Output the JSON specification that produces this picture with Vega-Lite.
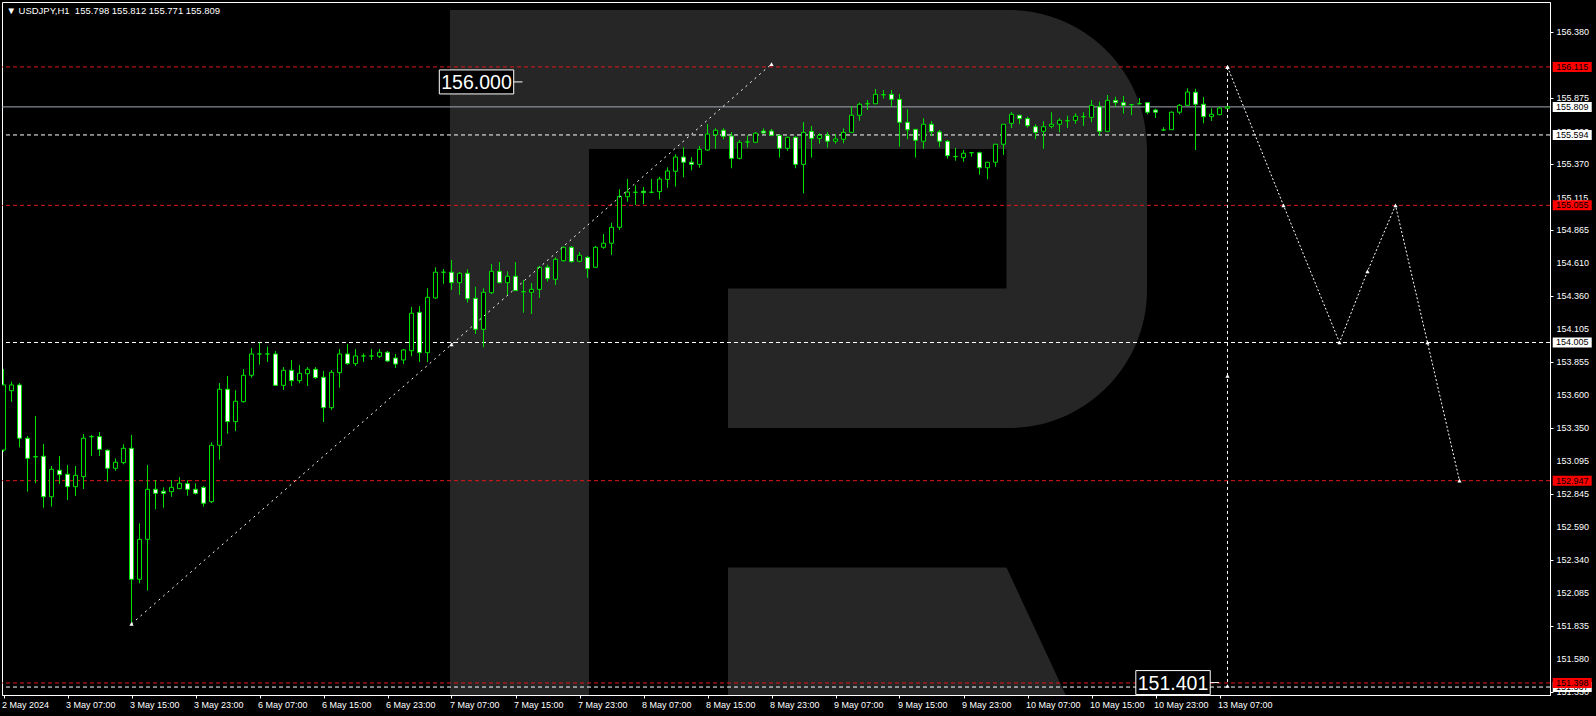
{
"$schema":"https://vega.github.io/schema/vega-lite/v6.json",
"width":1548,"height":693,
"autosize":{"type":"none"},
"padding":{"left":2,"top":2,"right":46,"bottom":21},
"background":"#000000",
"config":{"view":{"stroke":"#ffffff","strokeWidth":1},
"scale":{"continuousPadding":0},
"axis":{"grid":false,"domainColor":"#ffffff","tickColor":"#ffffff","labelColor":"#ffffff","labelFont":"Liberation Sans","labelFontSize":9,"tickSize":3,"labelOverlap":false,"labelFlush":false,"labelBound":false},
"text":{"font":"Liberation Sans"}},
"datasets":{
"candles":[
{"i":0,"o":153.182,"h":153.802,"l":153.167,"c":153.680},{"i":1,"o":153.636,"h":153.705,"l":153.552,"c":153.680},{"i":2,"o":153.680,"h":153.695,"l":153.203,"c":153.272},{"i":3,"o":153.272,"h":153.289,"l":152.863,"c":153.118},{"i":4,"o":153.131,"h":153.442,"l":152.927,"c":153.129},{"i":5,"o":153.134,"h":153.228,"l":152.740,"c":152.824},{"i":6,"o":152.824,"h":153.059,"l":152.748,"c":153.034},{"i":7,"o":153.027,"h":153.136,"l":152.922,"c":152.993},{"i":8,"o":152.996,"h":153.067,"l":152.799,"c":152.901},{"i":9,"o":152.901,"h":153.059,"l":152.830,"c":152.988},
{"i":10,"o":152.978,"h":153.304,"l":152.883,"c":153.272},{"i":11,"o":153.284,"h":153.297,"l":153.136,"c":153.284},{"i":12,"o":153.284,"h":153.320,"l":153.136,"c":153.187},{"i":13,"o":153.180,"h":153.187,"l":152.939,"c":153.042},{"i":14,"o":153.042,"h":153.118,"l":153.023,"c":153.088},{"i":15,"o":153.085,"h":153.226,"l":153.072,"c":153.195},{"i":16,"o":153.195,"h":153.297,"l":151.842,"c":152.192},{"i":17,"o":152.192,"h":152.621,"l":152.161,"c":152.498},{"i":18,"o":152.498,"h":153.067,"l":152.105,"c":152.881},{"i":19,"o":152.881,"h":152.952,"l":152.728,"c":152.850},
{"i":20,"o":152.866,"h":152.896,"l":152.740,"c":152.850},{"i":21,"o":152.863,"h":152.952,"l":152.824,"c":152.896},{"i":22,"o":152.886,"h":152.975,"l":152.883,"c":152.927},{"i":23,"o":152.924,"h":152.950,"l":152.832,"c":152.881},{"i":24,"o":152.881,"h":152.927,"l":152.840,"c":152.850},{"i":25,"o":152.896,"h":152.906,"l":152.748,"c":152.774},{"i":26,"o":152.786,"h":153.241,"l":152.776,"c":153.218},{"i":27,"o":153.218,"h":153.695,"l":153.108,"c":153.647},{"i":28,"o":153.647,"h":153.749,"l":153.307,"c":153.399},{"i":29,"o":153.399,"h":153.639,"l":153.327,"c":153.555},
{"i":30,"o":153.552,"h":153.802,"l":153.544,"c":153.754},{"i":31,"o":153.754,"h":153.963,"l":153.736,"c":153.917},{"i":32,"o":153.917,"h":154.003,"l":153.835,"c":153.917},{"i":33,"o":153.917,"h":153.973,"l":153.856,"c":153.917},{"i":34,"o":153.917,"h":153.940,"l":153.672,"c":153.677},{"i":35,"o":153.677,"h":153.817,"l":153.641,"c":153.792},{"i":36,"o":153.792,"h":153.871,"l":153.672,"c":153.713},{"i":37,"o":153.713,"h":153.833,"l":153.693,"c":153.769},{"i":38,"o":153.766,"h":153.817,"l":153.672,"c":153.800},{"i":39,"o":153.800,"h":153.817,"l":153.726,"c":153.736},
{"i":40,"o":153.739,"h":153.787,"l":153.396,"c":153.506},{"i":41,"o":153.506,"h":153.794,"l":153.488,"c":153.777},{"i":42,"o":153.774,"h":153.955,"l":153.659,"c":153.917},{"i":43,"o":153.917,"h":153.994,"l":153.835,"c":153.843},{"i":44,"o":153.843,"h":153.955,"l":153.825,"c":153.902},{"i":45,"o":153.902,"h":153.922,"l":153.856,"c":153.902},{"i":46,"o":153.902,"h":153.955,"l":153.871,"c":153.902},{"i":47,"o":153.899,"h":153.955,"l":153.886,"c":153.930},{"i":48,"o":153.930,"h":153.940,"l":153.856,"c":153.863},{"i":49,"o":153.886,"h":153.917,"l":153.810,"c":153.840},
{"i":50,"o":153.871,"h":153.955,"l":153.840,"c":153.948},{"i":51,"o":153.942,"h":154.277,"l":153.900,"c":154.229},{"i":52,"o":154.236,"h":154.284,"l":153.856,"c":153.927},{"i":53,"o":153.927,"h":154.420,"l":153.856,"c":154.351},{"i":54,"o":154.346,"h":154.581,"l":154.338,"c":154.543},{"i":55,"o":154.543,"h":154.568,"l":154.455,"c":154.543},{"i":56,"o":154.543,"h":154.637,"l":154.407,"c":154.463},{"i":57,"o":154.463,"h":154.545,"l":154.369,"c":154.535},{"i":58,"o":154.535,"h":154.565,"l":154.310,"c":154.340},{"i":59,"o":154.343,"h":154.432,"l":154.070,"c":154.106},
{"i":60,"o":154.106,"h":154.420,"l":153.968,"c":154.389},{"i":61,"o":154.386,"h":154.606,"l":154.376,"c":154.550},{"i":62,"o":154.550,"h":154.621,"l":154.458,"c":154.463},{"i":63,"o":154.463,"h":154.550,"l":154.366,"c":154.512},{"i":64,"o":154.512,"h":154.621,"l":154.400,"c":154.402},{"i":65,"o":154.394,"h":154.484,"l":154.233,"c":154.394},{"i":66,"o":154.389,"h":154.461,"l":154.223,"c":154.412},{"i":67,"o":154.412,"h":154.591,"l":154.346,"c":154.581},{"i":68,"o":154.581,"h":154.601,"l":154.471,"c":154.494},{"i":69,"o":154.489,"h":154.657,"l":154.445,"c":154.642},
{"i":70,"o":154.631,"h":154.739,"l":154.624,"c":154.734},{"i":71,"o":154.734,"h":154.744,"l":154.616,"c":154.624},{"i":72,"o":154.627,"h":154.698,"l":154.619,"c":154.673},{"i":73,"o":154.657,"h":154.667,"l":154.499,"c":154.570},{"i":74,"o":154.581,"h":154.744,"l":154.575,"c":154.734},{"i":75,"o":154.734,"h":154.836,"l":154.723,"c":154.765},{"i":76,"o":154.765,"h":154.922,"l":154.675,"c":154.887},{"i":77,"o":154.887,"h":155.178,"l":154.866,"c":155.124},{"i":78,"o":155.121,"h":155.257,"l":155.083,"c":155.157},{"i":79,"o":155.155,"h":155.209,"l":155.058,"c":155.155},
{"i":80,"o":155.163,"h":155.196,"l":155.065,"c":155.152},{"i":81,"o":155.155,"h":155.257,"l":155.147,"c":155.155},{"i":82,"o":155.160,"h":155.274,"l":155.101,"c":155.257},{"i":83,"o":155.254,"h":155.346,"l":155.190,"c":155.318},{"i":84,"o":155.316,"h":155.446,"l":155.198,"c":155.425},{"i":85,"o":155.425,"h":155.500,"l":155.270,"c":155.385},{"i":86,"o":155.385,"h":155.425,"l":155.323,"c":155.369},{"i":87,"o":155.369,"h":155.510,"l":155.343,"c":155.484},{"i":88,"o":155.479,"h":155.678,"l":155.473,"c":155.601},{"i":89,"o":155.596,"h":155.645,"l":155.489,"c":155.630},
{"i":90,"o":155.630,"h":155.645,"l":155.560,"c":155.584},{"i":91,"o":155.586,"h":155.617,"l":155.339,"c":155.415},{"i":92,"o":155.415,"h":155.555,"l":155.407,"c":155.538},{"i":93,"o":155.540,"h":155.591,"l":155.497,"c":155.540},{"i":94,"o":155.538,"h":155.617,"l":155.532,"c":155.607},{"i":95,"o":155.624,"h":155.645,"l":155.601,"c":155.609},{"i":96,"o":155.624,"h":155.640,"l":155.584,"c":155.591},{"i":97,"o":155.591,"h":155.594,"l":155.420,"c":155.492},{"i":98,"o":155.492,"h":155.581,"l":155.473,"c":155.576},{"i":99,"o":155.576,"h":155.584,"l":155.339,"c":155.369},
{"i":100,"o":155.369,"h":155.693,"l":155.147,"c":155.614},{"i":101,"o":155.622,"h":155.663,"l":155.420,"c":155.568},{"i":102,"o":155.568,"h":155.607,"l":155.527,"c":155.591},{"i":103,"o":155.591,"h":155.617,"l":155.497,"c":155.546},{"i":104,"o":155.546,"h":155.601,"l":155.527,"c":155.563},{"i":105,"o":155.561,"h":155.645,"l":155.530,"c":155.614},{"i":106,"o":155.614,"h":155.813,"l":155.610,"c":155.745},{"i":107,"o":155.745,"h":155.841,"l":155.703,"c":155.829},{"i":108,"o":155.833,"h":155.862,"l":155.785,"c":155.833},{"i":109,"o":155.833,"h":155.946,"l":155.830,"c":155.905},
{"i":110,"o":155.902,"h":155.938,"l":155.872,"c":155.902},{"i":111,"o":155.905,"h":155.938,"l":155.810,"c":155.867},{"i":112,"o":155.867,"h":155.908,"l":155.504,"c":155.691},{"i":113,"o":155.691,"h":155.790,"l":155.561,"c":155.634},{"i":114,"o":155.637,"h":155.640,"l":155.420,"c":155.553},{"i":115,"o":155.546,"h":155.722,"l":155.489,"c":155.676},{"i":116,"o":155.676,"h":155.701,"l":155.586,"c":155.619},{"i":117,"o":155.617,"h":155.632,"l":155.500,"c":155.546},{"i":118,"o":155.546,"h":155.555,"l":155.412,"c":155.435},{"i":119,"o":155.428,"h":155.494,"l":155.397,"c":155.428},
{"i":120,"o":155.420,"h":155.479,"l":155.389,"c":155.454},{"i":121,"o":155.458,"h":155.461,"l":155.428,"c":155.458},{"i":122,"o":155.458,"h":155.466,"l":155.290,"c":155.343},{"i":123,"o":155.343,"h":155.389,"l":155.255,"c":155.385},{"i":124,"o":155.385,"h":155.525,"l":155.351,"c":155.523},{"i":125,"o":155.523,"h":155.678,"l":155.441,"c":155.676},{"i":126,"o":155.683,"h":155.770,"l":155.647,"c":155.752},{"i":127,"o":155.745,"h":155.747,"l":155.676,"c":155.719},{"i":128,"o":155.719,"h":155.734,"l":155.650,"c":155.665},{"i":129,"o":155.657,"h":155.676,"l":155.561,"c":155.614},
{"i":130,"o":155.622,"h":155.699,"l":155.489,"c":155.657},{"i":131,"o":155.660,"h":155.768,"l":155.645,"c":155.676},{"i":132,"o":155.676,"h":155.722,"l":155.614,"c":155.706},{"i":133,"o":155.703,"h":155.742,"l":155.647,"c":155.703},{"i":134,"o":155.706,"h":155.760,"l":155.680,"c":155.737},{"i":135,"o":155.734,"h":155.768,"l":155.663,"c":155.734},{"i":136,"o":155.729,"h":155.862,"l":155.691,"c":155.821},{"i":137,"o":155.810,"h":155.849,"l":155.588,"c":155.622},{"i":138,"o":155.622,"h":155.900,"l":155.617,"c":155.859},{"i":139,"o":155.859,"h":155.887,"l":155.810,"c":155.841},
{"i":140,"o":155.841,"h":155.892,"l":155.757,"c":155.821},{"i":141,"o":155.826,"h":155.828,"l":155.745,"c":155.826},{"i":142,"o":155.833,"h":155.877,"l":155.830,"c":155.833},{"i":143,"o":155.841,"h":155.843,"l":155.752,"c":155.768},{"i":144,"o":155.785,"h":155.795,"l":155.724,"c":155.768},{"i":145,"o":155.632,"h":155.653,"l":155.624,"c":155.632},{"i":146,"o":155.634,"h":155.775,"l":155.632,"c":155.768},{"i":147,"o":155.768,"h":155.831,"l":155.752,"c":155.821},{"i":148,"o":155.821,"h":155.951,"l":155.818,"c":155.923},{"i":149,"o":155.921,"h":155.948,"l":155.479,"c":155.829},
{"i":150,"o":155.829,"h":155.885,"l":155.683,"c":155.734},{"i":151,"o":155.734,"h":155.798,"l":155.701,"c":155.752},{"i":152,"o":155.749,"h":155.810,"l":155.745,"c":155.800},{"i":153,"o":155.798,"h":155.812,"l":155.771,"c":155.809}
],
"levels":[
{"p":151.367,"kind":"level"},{"p":155.594,"kind":"level"},{"p":154.005,"kind":"level"},{"p":155.809,"kind":"bid"},
{"p":156.115,"kind":"target"},{"p":155.055,"kind":"target"},{"p":152.947,"kind":"target"},{"p":151.398,"kind":"target"}
],
"yticks":[{"p":156.38},{"p":156.125},{"p":155.875},{"p":155.62},{"p":155.37},{"p":155.115},{"p":154.865},{"p":154.61},{"p":154.36},{"p":154.105},{"p":153.855},{"p":153.6},{"p":153.35},{"p":153.095},{"p":152.845},{"p":152.59},{"p":152.34},{"p":152.085},{"p":151.835},{"p":151.58},{"p":151.33}],
"paths":[
{"seg":"A","n":1,"i":16,"p":151.850},{"seg":"A","n":2,"i":56,"p":153.990},{"seg":"A","n":3,"i":96,"p":156.137},
{"seg":"B","n":1,"i":153,"p":156.115},{"seg":"B","n":2,"i":160,"p":155.055},{"seg":"B","n":3,"i":167,"p":154.005},{"seg":"B","n":4,"i":170.5,"p":154.550},{"seg":"B","n":5,"i":174,"p":155.055},{"seg":"B","n":6,"i":178,"p":154.005},{"seg":"B","n":7,"i":182,"p":152.947},
{"seg":"C","n":1,"i":153,"p":156.115},{"seg":"C","n":2,"i":153,"p":153.749},{"seg":"C","n":3,"i":153,"p":151.375}
],
"tags":[{"t":"156.000","i":59.125,"p":156.0},{"t":"151.401","i":146.19,"p":151.401}]
},
"layer":[
{"data":{"name":"candles"},
 "mark":{"type":"rule","color":"#00e000","strokeWidth":1,"clip":true,"opacity":0},
 "encoding":{
  "x":{"field":"i","type":"quantitative","scale":{"domain":[-0.1875,193.3125],"nice":false,"zero":false,"padding":0},
   "axis":{"orient":"bottom","title":null,"values":[0,8,16,24,32,40,48,56,64,72,80,88,96,104,112,120,128,136,144,152],
    "labelExpr":"['2 May 2024','3 May 07:00','3 May 15:00','3 May 23:00','6 May 07:00','6 May 15:00','6 May 23:00','7 May 07:00','7 May 15:00','7 May 23:00','8 May 07:00','8 May 15:00','8 May 23:00','9 May 07:00','9 May 15:00','9 May 23:00','10 May 07:00','10 May 15:00','10 May 23:00','13 May 07:00'][round(datum.value/8)]",
    "labelAlign":"left","labelBaseline":"top","labelPadding":2,"labelOffset":-2,"labelOverlap":false,"labelFlush":false,"grid":false,"labelColor":"#ffffff","tickColor":"#ffffff","domainColor":"#ffffff","tickSize":3}},
  "y":{"field":"l","type":"quantitative","scale":{"domain":[151.306,156.612],"nice":false,"zero":false,"padding":0},
   "axis":{"orient":"right","title":null,"values":[156.38,156.125,155.875,155.62,155.37,155.115,154.865,154.61,154.36,154.105,153.855,153.6,153.35,153.095,152.845,152.59,152.34,152.085,151.835,151.58,151.33],
    "labels":false,"grid":false,"tickColor":"#ffffff","domainColor":"#ffffff","tickSize":3}},
  "y2":{"field":"h"}}},
{"data":{"name":"yticks"},
 "mark":{"type":"text","color":"#ffffff","fontSize":9,"align":"left","baseline":"middle","clip":false},
 "encoding":{"x":{"datum":194.12,"type":"quantitative"},"y":{"field":"p","type":"quantitative"},"text":{"field":"p","type":"quantitative","format":".3f"}}},
{"data":{"values":[{}]},
 "mark":{"type":"point","shape":"M0,0H139V700H0Z M0,0H559A138,138 0 0 1 697,138V280A138,138 0 0 1 559,418H278V278.6H556.5V139H0Z M278,557.6H556.5L622.7,700H278Z","size":4,"filled":true,"fill":"#262626","strokeWidth":0,"opacity":1,"clip":true},
 "encoding":{"x":{"datum":55.8125,"type":"quantitative"},"y":{"datum":156.5507,"type":"quantitative"}}},
{"data":{"name":"levels"},"transform":[{"filter":"datum.kind != 'bid'"}],
 "mark":{"type":"rule","strokeWidth":1},
 "encoding":{"y":{"field":"p","type":"quantitative"},
  "color":{"field":"kind","type":"nominal","scale":{"domain":["target","level"],"range":["#e01818","#ffffff"]},"legend":null},
  "strokeDash":{"value":[4,3]}}},
{"data":{"name":"levels"},"transform":[{"filter":"datum.kind == 'bid'"}],
 "mark":{"type":"rule","strokeWidth":1,"color":"#a3aab5"},
 "encoding":{"y":{"field":"p","type":"quantitative"}}},
{"data":{"name":"candles"},
 "mark":{"type":"rule","color":"#00e000","strokeWidth":1,"clip":true},
 "encoding":{"x":{"field":"i","type":"quantitative"},"y":{"field":"l","type":"quantitative"},"y2":{"field":"h"}}},
{"data":{"name":"candles"},
 "mark":{"type":"bar","width":4,"stroke":"#00e000","strokeWidth":1,"clip":true},
 "encoding":{"x":{"field":"i","type":"quantitative"},
  "y":{"field":"o","type":"quantitative"},"y2":{"field":"c"},
  "fill":{"condition":{"test":"datum.c < datum.o","value":"#ffffff"},"value":"#000000"}}},
{"data":{"name":"paths"},
 "mark":{"type":"line","color":"#ffffff","strokeWidth":1,"clip":true},
 "encoding":{"x":{"field":"i","type":"quantitative"},"y":{"field":"p","type":"quantitative"},
  "detail":{"field":"seg"},"order":{"field":"n"},
  "strokeDash":{"field":"seg","type":"nominal","scale":{"domain":["A","B","C"],"range":[[2,4],[2,2],[3,3]]},"legend":null}}},
{"data":{"name":"paths"},
 "mark":{"type":"point","shape":"triangle-up","size":18,"filled":true,"color":"#ffffff","opacity":1,"clip":true},
 "encoding":{"x":{"field":"i","type":"quantitative"},"y":{"field":"p","type":"quantitative"}}},
{"data":{"name":"tags"},
 "mark":{"type":"point","shape":"M-37.2,-12H37.2V12H-37.2Z M37.2,0H46","size":4,"filled":true,"fill":"#000000","stroke":"#ffffff","strokeWidth":1,"opacity":1},
 "encoding":{"x":{"field":"i","type":"quantitative"},"y":{"field":"p","type":"quantitative"}}},
{"data":{"name":"tags"},
 "mark":{"type":"text","color":"#ffffff","fontSize":19.5,"align":"center","baseline":"middle","dy":1},
 "encoding":{"x":{"field":"i","type":"quantitative"},"y":{"field":"p","type":"quantitative"},"text":{"field":"t"}}},
{"data":{"name":"levels"},"transform":[{"filter":"datum.kind != 'target'"}],
 "mark":{"type":"point","shape":"M-19.5,-5H19.5V5H-19.5Z","size":4,"filled":true,"fill":"#ffffff","strokeWidth":0,"opacity":1,"clip":false},
 "encoding":{"x":{"datum":196.09,"type":"quantitative"},"y":{"field":"p","type":"quantitative"}}},
{"data":{"name":"levels"},"transform":[{"filter":"datum.kind != 'target'"}],
 "mark":{"type":"text","color":"#000000","fontSize":9,"align":"center","baseline":"middle","clip":false},
 "encoding":{"x":{"datum":196.09,"type":"quantitative"},"y":{"field":"p","type":"quantitative"},"text":{"field":"p","type":"quantitative","format":".3f"}}},
{"data":{"name":"levels"},"transform":[{"filter":"datum.kind == 'target'"}],
 "mark":{"type":"point","shape":"M-19.5,-5H19.5V5H-19.5Z","size":4,"filled":true,"fill":"#ff0000","strokeWidth":0,"opacity":1,"clip":false},
 "encoding":{"x":{"datum":196.09,"type":"quantitative"},"y":{"field":"p","type":"quantitative"}}},
{"data":{"name":"levels"},"transform":[{"filter":"datum.kind == 'target'"}],
 "mark":{"type":"text","color":"#000000","fontSize":9,"align":"center","baseline":"middle","clip":false},
 "encoding":{"x":{"datum":196.09,"type":"quantitative"},"y":{"field":"p","type":"quantitative"},"text":{"field":"p","type":"quantitative","format":".3f"}}},
{"data":{"values":[{"label":"▼ USDJPY,H1\u00a0\u00a0155.798 155.812 155.771 155.809"}]},
 "mark":{"type":"text","color":"#ffffff","fontSize":9.5,"align":"left","baseline":"middle"},
 "encoding":{"x":{"datum":0.375,"type":"quantitative"},"y":{"datum":156.545,"type":"quantitative"},"text":{"field":"label"}}}
]
}
